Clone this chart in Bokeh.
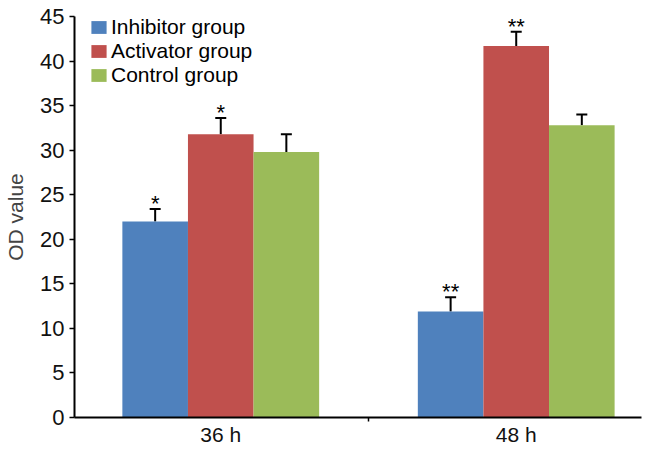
from bokeh.plotting import figure
from bokeh.models import (ColumnDataSource, Range1d, FixedTicker, Whisker, TeeHead,
                          Legend, LegendItem)
from bokeh.embed import file_html
from bokeh.resources import INLINE
from bokeh.core.properties import value

# ---- data ----
times = ["36 h", "48 h"]
groups = ["Inhibitor group", "Activator group", "Control group"]
colors = ["#4F81BD", "#C0504D", "#9BBB59"]
inhibitor = [22.0, 11.9]
activator = [31.8, 41.7]
control = [29.8, 32.8]
inhibitor_err = [1.4, 1.6]
activator_err = [1.8, 1.6]
control_err = [2.0, 1.2]
inhibitor_sig = ["*", "**"]
activator_sig = ["*", "**"]
control_sig = ["", ""]
y_ticks = [0, 5, 10, 15, 20, 25, 30, 35, 40, 45]

FONT = "Liberation Sans"

p = figure(width=642, height=448, output_backend="svg", toolbar_location=None,
           x_range=Range1d(0.005, 1.924), y_range=Range1d(0, 45),
           min_border_left=74, min_border_right=1, min_border_top=16, min_border_bottom=30)
p.outline_line_color = None
p.grid.grid_line_color = None
p.background_fill_color = "white"

bar_w = 0.222
offsets = [-0.222, 0.0, 0.222]
series = [inhibitor, activator, control]
errs = [inhibitor_err, activator_err, control_err]
sigs = [inhibitor_sig, activator_sig, control_sig]

legend_items = []
for gi, (name, col, vals, er, sg) in enumerate(zip(groups, colors, series, errs, sigs)):
    xs = [i + 0.5 + offsets[gi] for i in range(len(times))]
    src = ColumnDataSource(dict(x=xs, top=vals, upper=[v + e for v, e in zip(vals, er)],
                                sig=sg))
    r = p.vbar(x="x", top="top", width=bar_w, source=src, fill_color=col, line_color=None)
    legend_items.append(LegendItem(label=name, renderers=[r]))
    w = Whisker(base="x", lower="top", upper="upper", dimension="height", source=src,
                line_color="black", line_width=2,
                upper_head=TeeHead(size=11, line_color="black", line_width=2),
                lower_head=None)
    p.add_layout(w)
    p.text(x="x", y="upper", text="sig", source=src, text_align="center",
           text_baseline="bottom", text_font=value(FONT), text_font_size="22px",
           text_color="black", y_offset=7)

legend = Legend(items=legend_items, location=(15, 330), border_line_color=None,
                background_fill_alpha=0, padding=0, margin=0, spacing=0,
                label_text_font=FONT, label_text_font_size="21px", label_text_color="black",
                label_height=24, glyph_height=16, glyph_width=19, label_standoff=3)
p.add_layout(legend)

# y axis
p.yaxis.ticker = FixedTicker(ticks=y_ticks)
p.yaxis.axis_line_width = 2
p.yaxis.axis_line_color = "black"
p.yaxis.major_tick_in = 0
p.yaxis.major_tick_out = 5
p.yaxis.major_tick_line_width = 1.5
p.yaxis.minor_tick_line_color = None
p.yaxis.major_label_text_font = FONT
p.yaxis.major_label_text_font_size = "22px"
p.yaxis.major_label_text_color = "#111111"
p.yaxis.major_label_standoff = 5
p.yaxis.axis_label = "OD value"
p.yaxis.axis_label_text_font = FONT
p.yaxis.axis_label_text_font_size = "21px"
p.yaxis.axis_label_text_font_style = "normal"
p.yaxis.axis_label_standoff = 10

# x axis
p.xaxis.ticker = FixedTicker(ticks=[0.5, 1.5], minor_ticks=[1.0])
p.xaxis.major_label_overrides = {0.5: times[0], 1.5: times[1]}
p.xaxis.axis_line_width = 2
p.xaxis.axis_line_color = "black"
p.xaxis.major_tick_in = 0
p.xaxis.major_tick_out = 0
p.xaxis.minor_tick_in = 0
p.xaxis.minor_tick_out = 4
p.xaxis.minor_tick_line_width = 1.5
p.xaxis.minor_tick_line_color = "black"
p.xaxis.major_label_text_font = FONT
p.xaxis.major_label_text_font_size = "21px"
p.xaxis.major_label_text_color = "#111111"
p.xaxis.major_label_standoff = 1

open("out.html", "w").write(file_html(p, INLINE))
